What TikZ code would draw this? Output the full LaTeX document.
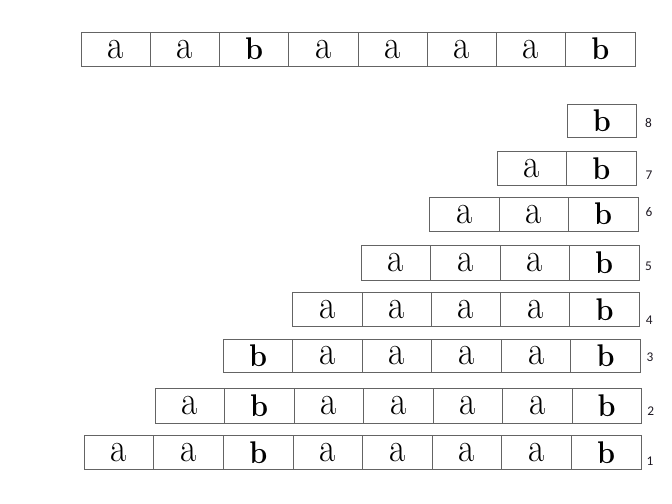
\documentclass[tikz,border=0pt]{standalone}
\usepackage{fontspec}
\usepackage{graphicx}
\newfontfamily\labfont{Carlito}
\definecolor{linegray}{RGB}{100,100,100}
\definecolor{labcol}{RGB}{30,25,35}
\newcommand{\La}{\scalebox{0.86}[1]{\fontsize{31}{31}\selectfont a}}
\newcommand{\Lb}{\scalebox{0.92}[1]{\fontsize{23.5}{23.5}\selectfont\bfseries b}}
\tikzset{
  cell/.style={draw=linegray, line width=0.75pt, inner sep=0pt, text=black},
  rowlab/.style={font=\labfont\fontsize{10}{10}\selectfont, text=labcol, inner sep=0pt},
}
% #1 name, #2 left, #3 right, #4 top, #5 bottom, #6 letters, #7 count
\newcommand{\cellrow}[7]{%
  \pgfmathsetmacro\cw{(#3-#2)/#7}%
  \pgfmathsetmacro\cellh{#5-#4}%
  \foreach \l [count=\i] in {#6}{%
    \node[cell, minimum width=\cw*0.75pt, minimum height=\cellh*0.75pt]
      (#1-\i) at ({#2+(\i-0.5)*\cw},{(#4+#5)/2}) {\csname L\l\endcsname};
  }%
}
\begin{document}
\begin{tikzpicture}[x=0.75pt,y=-0.75pt]
\useasboundingbox (0,0) rectangle (672,504);
% top row
\cellrow{t}{81}{635}{32.3}{66}{a,a,b,a,a,a,a,b}{8}
% staircase rows
\cellrow{r8}{567.3}{636.5}{104}{137.3}{b}{1}
\cellrow{r7}{497.3}{636}{151}{185.5}{a,b}{2}
\cellrow{r6}{429.5}{638}{197.3}{231}{a,a,b}{3}
\cellrow{r5}{361}{639}{245.7}{280}{a,a,a,b}{4}
\cellrow{r4}{292.7}{639.3}{292.7}{326.7}{a,a,a,a,b}{5}
\cellrow{r3}{223.3}{640.5}{339.3}{372.7}{b,a,a,a,a,b}{6}
\cellrow{r2}{155}{641.5}{388.3}{423.3}{a,b,a,a,a,a,b}{7}
\cellrow{r1}{84.3}{641}{435.3}{469.3}{a,a,b,a,a,a,a,b}{8}
% row labels
\node[rowlab] (l8) at (648.5,123) {8};
\node[rowlab] (l7) at (649,175) {7};
\node[rowlab] (l6) at (649,212) {6};
\node[rowlab] (l5) at (648.5,266.7) {5};
\node[rowlab] (l4) at (649.3,320.7) {4};
\node[rowlab] (l3) at (650,357.3) {3};
\node[rowlab] (l2) at (650.7,411) {2};
\node[rowlab] (l1) at (650,461.7) {1};
\end{tikzpicture}
\end{document}
